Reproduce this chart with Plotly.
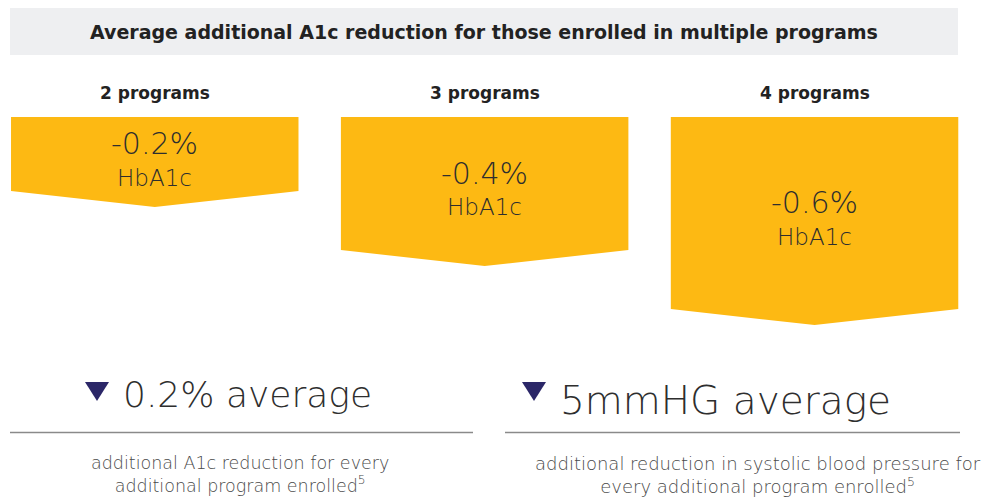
import plotly.graph_objects as go

# ---- data ----
programs = [2, 3, 4]
program_labels = ["2 programs", "3 programs", "4 programs"]
a1c_reduction = [-0.2, -0.4, -0.6]          # % HbA1c
value_labels = ["-0.2%", "-0.4%", "-0.6%"]
unit_label = "HbA1c"
title_text = "Average additional A1c reduction for those enrolled in multiple programs"
summary_big = ["0.2% average", "5mmHG average"]
summary_small = [
    "additional A1c reduction for every<br>additional program enrolled<sup>5</sup>",
    "additional reduction in systolic blood pressure for<br>every additional program enrolled<sup>5</sup>",
]

# ---- style ----
W, H = 998, 498
YELLOW = "#FDB913"
NAVY = "#2B2768"
DARK = "#2E2E2E"
LIGHT_FONT = "DejaVu Sans"
BOLD_FONT = "DejaVu Sans"

half_w = 0.4357      # half box width, x units
offset = 0.105       # arrow length beyond value, y units
tip = 0.054          # depth of arrow point, y units

fig = go.Figure()

for x, v in zip(programs, a1c_reduction):
    end = v - offset
    xs = [x - half_w, x + half_w, x + half_w, x, x - half_w, x - half_w]
    ys = [0, 0, end + tip, end, end + tip, 0]
    fig.add_trace(go.Scatter(x=xs, y=ys, mode="lines", fill="toself",
                             fillcolor=YELLOW, line=dict(width=0),
                             hoverinfo="skip", showlegend=False))

annotations = []
for x, v, vl, pl in zip(programs, a1c_reduction, value_labels, program_labels):
    mid = (v - offset) / 2
    annotations.append(dict(x=x, y=mid, xref="x", yref="y", text=vl, showarrow=False,
                            xanchor="center", yanchor="middle", yshift=18,
                            font=dict(family=LIGHT_FONT, size=30, color=DARK, weight=200)))
    annotations.append(dict(x=x, y=mid, xref="x", yref="y", text=unit_label, showarrow=False,
                            xanchor="center", yanchor="middle", yshift=-16,
                            font=dict(family=LIGHT_FONT, size=23, color=DARK, weight=200)))
    annotations.append(dict(x=x, y=0, xref="x", yref="y", text=f"<b>{pl}</b>", showarrow=False,
                            xanchor="center", yanchor="middle", yshift=24,
                            font=dict(family=BOLD_FONT, size=17, color="#222222")))

def py(p):
    return 1 - p / H

def px(p):
    return p / W

# title band
shapes = [dict(type="rect", xref="paper", yref="paper", x0=px(10), x1=px(958),
               y0=py(55), y1=py(8), fillcolor="#EEEFF1", line=dict(width=0), layer="below")]
annotations.append(dict(x=px(484), y=py(31.5), xref="paper", yref="paper", text=f"<b>{title_text}</b>",
                        xanchor="center", yanchor="middle", showarrow=False,
                        font=dict(family=BOLD_FONT, size=19, color="#222222")))

# summary triangles
for x0, x1 in [(85, 109), (522, 546)]:
    shapes.append(dict(type="path", xref="paper", yref="paper",
                       path=f"M {px(x0)},{py(382)} L {px(x1)},{py(382)} L {px((x0+x1)/2)},{py(401)} Z",
                       fillcolor=NAVY, line=dict(width=0)))
# divider lines
for x0, x1 in [(10, 473), (505, 960)]:
    shapes.append(dict(type="line", xref="paper", yref="paper", x0=px(x0), x1=px(x1),
                       y0=py(432.5), y1=py(432.5), line=dict(color="#8A8A8A", width=1.5)))

annotations.append(dict(x=px(121), y=py(394), xref="paper", yref="paper", text=summary_big[0],
                        xanchor="left", yanchor="middle", showarrow=False,
                        font=dict(family=LIGHT_FONT, size=36, color=DARK, weight=200)))
annotations.append(dict(x=px(558), y=py(400), xref="paper", yref="paper", text=summary_big[1],
                        xanchor="left", yanchor="middle", showarrow=False,
                        font=dict(family=LIGHT_FONT, size=39, color=DARK, weight=200)))
annotations.append(dict(x=px(240), y=py(474), xref="paper", yref="paper", text=summary_small[0],
                        xanchor="center", yanchor="middle", showarrow=False,
                        font=dict(family=LIGHT_FONT, size=17.5, color="#4A4A4A", weight=200)))
annotations.append(dict(x=px(758), y=py(475), xref="paper", yref="paper", text=summary_small[1],
                        xanchor="center", yanchor="middle", showarrow=False,
                        font=dict(family=LIGHT_FONT, size=18, color="#4A4A4A", weight=200)))

fig.update_layout(
    width=W, height=H, margin=dict(l=0, r=0, t=0, b=0),
    paper_bgcolor="white", plot_bgcolor="white",
    xaxis=dict(range=[1.5309, 4.5561], visible=False, fixedrange=True),
    yaxis=dict(range=[-1.2915, 0.3966], visible=False, fixedrange=True),
    shapes=shapes, annotations=annotations, showlegend=False,
)

fig.write_html("out.html", config={"displayModeBar": False},
               post_script="document.body.style.margin='0';")
